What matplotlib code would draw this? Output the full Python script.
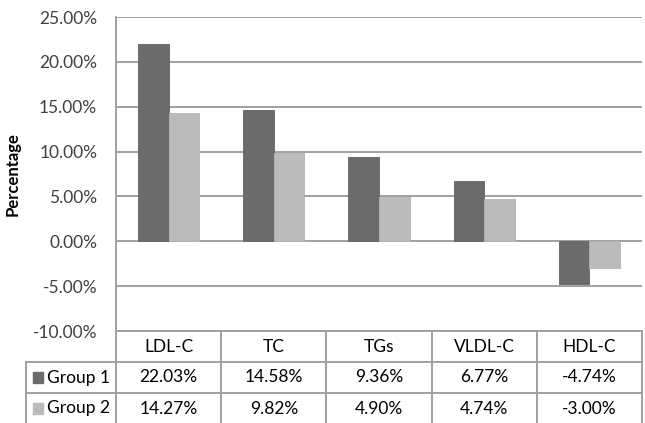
import numpy as np
import matplotlib.pyplot as plt

plt.rcParams['font.family'] = ['Lato', 'DejaVu Sans']

# percentage change per lipid marker
categories = ['LDL-C', 'TC', 'TGs', 'VLDL-C', 'HDL-C']
group1 = [22.03, 14.58, 9.36, 6.77, -4.74]
group2 = [14.27, 9.82, 4.90, 4.74, -3.00]
series_names = ['Group 1', 'Group 2']
yticks = [-10, -5, 0, 5, 10, 15, 20, 25]

c_dark = '#6b6b6b'
c_light = '#bbbbbb'
c_grid = '#a0a0a0'
c_text = '#404040'
fs = 12.5

W, H = 645, 423
fig = plt.figure(figsize=(W / 100, H / 100), dpi=100)

# pixel box helper -> figure fraction
def px_axes(x0, y0, x1, y1):
    return fig.add_axes([x0 / W, 1 - y1 / H, (x1 - x0) / W, (y1 - y0) / H])

left, right, top, bottom = 116, 642, 17, 331
ax = px_axes(left, top, right, bottom)

x = np.arange(len(categories))
bw = 0.29
ax.bar(x - bw / 2, group1, bw, color=c_dark, edgecolor='#626262', linewidth=0.6, zorder=3)
ax.bar(x + bw / 2, group2, bw, color=c_light, edgecolor='#b3b3b3', linewidth=0.6, zorder=3)

ax.set_xlim(-0.5, len(categories) - 0.5)
ax.set_ylim(yticks[0], yticks[-1])
ax.set_yticks(yticks)
ax.set_yticklabels(['%.2f%%' % v for v in yticks], fontsize=fs, color=c_text)
ax.set_xticks([])
ax.tick_params(axis='y', length=0, pad=13.5)
ax.yaxis.grid(True, color=c_grid, linewidth=1.4, zorder=0)
for s in ['top', 'right', 'bottom']:
    ax.spines[s].set_visible(False)
ax.spines['left'].set_color(c_grid)
ax.spines['left'].set_linewidth(1.4)
ax.set_ylabel('Percentage', fontsize=12, fontweight='bold', color='black')
ax.yaxis.set_label_coords(-(left - 21) / (right - left), 0.5)

# data table under the plot
colw = (right - left) / len(categories)
tleft = 26
lab_w = (left - tleft) / colw
tb = px_axes(tleft, bottom, right, H + 1)
tb.set_xlim(-0.5 - lab_w, len(categories) - 0.5)
tb.set_ylim(3, 0)
tb.axis('off')

lw = 1.4
xr = len(categories) - 0.5
# horizontal rules
tb.plot([-0.5, xr], [0, 0], color=c_grid, lw=lw, clip_on=False)
for r in [1, 2, 3]:
    tb.plot([-0.5 - lab_w, xr], [r, r], color=c_grid, lw=lw, clip_on=False)
# vertical rules
tb.plot([-0.5 - lab_w, -0.5 - lab_w], [1, 3], color=c_grid, lw=lw, clip_on=False)
for i in range(len(categories) + 1):
    tb.plot([i - 0.5, i - 0.5], [0, 3], color=c_grid, lw=lw, clip_on=False)

for i, c in enumerate(categories):
    tb.text(i, 0.5, c, ha='center', va='center', fontsize=fs, color='black')
for r, (name, vals, col) in enumerate(zip(series_names, [group1, group2], [c_dark, c_light])):
    yy = r + 1.5
    tb.add_patch(plt.Rectangle((-0.5 - lab_w + 0.065, yy - 0.17), 0.095, 0.34,
                               color=col, transform=tb.transData, clip_on=False))
    tb.text(-0.5 - lab_w + 0.2, yy, name, ha='left', va='center', fontsize=fs, color='black')
    for i, v in enumerate(vals):
        tb.text(i, yy, '%.2f%%' % v, ha='center', va='center', fontsize=fs, color='black')

fig.savefig('out.png', dpi=100)
